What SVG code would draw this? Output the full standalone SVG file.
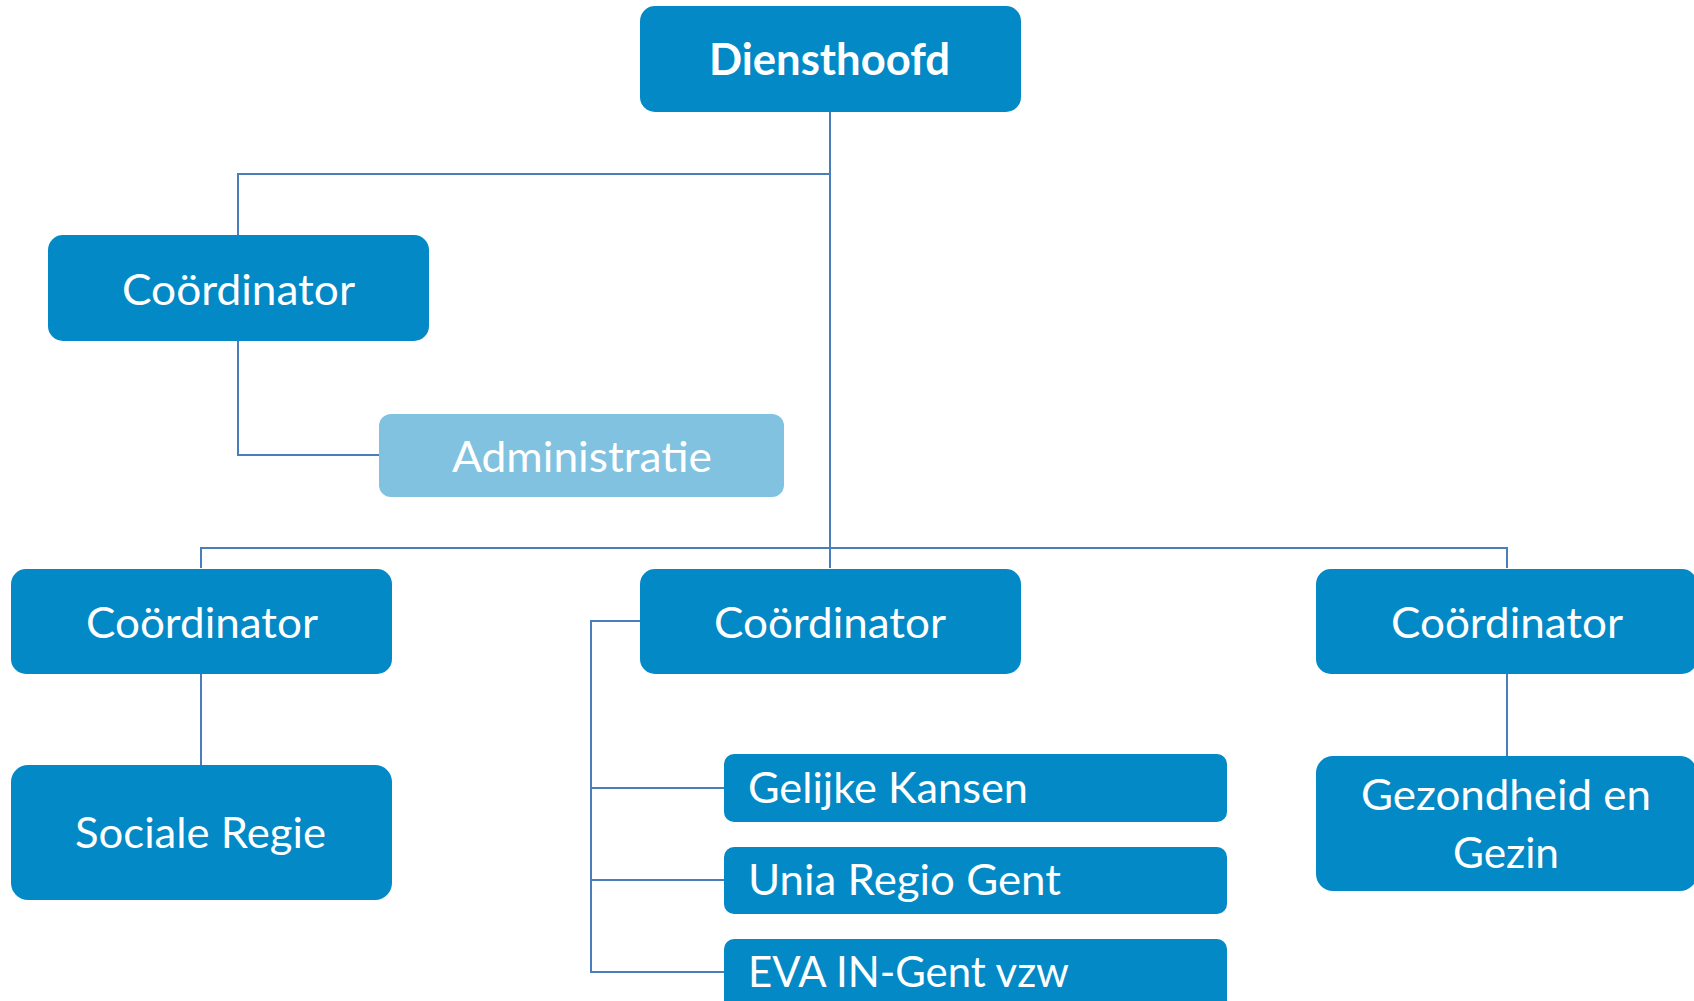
<svg xmlns="http://www.w3.org/2000/svg" width="1694" height="1001" viewBox="0 0 1694 1001">
<style>
.box{fill:#0289c6}
.light{fill:#80c2e0}
.t{font-family:Lato,"Open Sans","Liberation Sans",sans-serif;font-size:43px;fill:#ffffff}
.b{font-weight:bold}
.c{fill:none;stroke:#4a7ebb;stroke-width:2}
</style>
<rect width="1694" height="1001" fill="#ffffff"/>
<g id="connectors">
<path class="c" d="M830,112 V568"/>
<path class="c" d="M830,174 H238 V235"/>
<path class="c" d="M238,340 V455 H380"/>
<path class="c" d="M201,568 V548 H1507 V568"/>
<path class="c" d="M201,673 V765"/>
<path class="c" d="M1507,673 V756"/>
<path class="c" d="M640,621 H591 V972 H724 M591,788 H724 M591,880 H724"/>
</g>
<g id="diensthoofd">
<rect class="box" x="640" y="6" width="381" height="106" rx="15"/>
<text class="t b" x="709" y="75" textLength="241" lengthAdjust="spacingAndGlyphs">Diensthoofd</text>
</g>
<g id="coordinator1">
<rect class="box" x="48" y="235" width="381" height="106" rx="15"/>
<text class="t" x="122" y="305" textLength="233" lengthAdjust="spacingAndGlyphs">Coördinator</text>
</g>
<g id="administratie">
<rect class="light" x="379" y="414" width="405" height="83" rx="12"/>
<text class="t" x="452" y="472" textLength="260" lengthAdjust="spacingAndGlyphs">Administratie</text>
</g>
<g id="coordinator2">
<rect class="box" x="11" y="569" width="381" height="105" rx="15"/>
<text class="t" x="86" y="638" textLength="232" lengthAdjust="spacingAndGlyphs">Coördinator</text>
</g>
<g id="sociale-regie">
<rect class="box" x="11" y="765" width="381" height="135" rx="17"/>
<text class="t" x="75" y="848" textLength="251" lengthAdjust="spacingAndGlyphs">Sociale Regie</text>
</g>
<g id="coordinator3">
<rect class="box" x="640" y="569" width="381" height="105" rx="15"/>
<text class="t" x="714" y="638" textLength="232" lengthAdjust="spacingAndGlyphs">Coördinator</text>
</g>
<g id="gelijke-kansen">
<rect class="box" x="724" y="754" width="503" height="68" rx="10"/>
<text class="t" x="748" y="803" textLength="280" lengthAdjust="spacingAndGlyphs">Gelijke Kansen</text>
</g>
<g id="unia">
<rect class="box" x="724" y="847" width="503" height="67" rx="10"/>
<text class="t" x="748" y="895" textLength="313" lengthAdjust="spacingAndGlyphs">Unia Regio Gent</text>
</g>
<g id="eva">
<rect class="box" x="724" y="939" width="503" height="80" rx="10"/>
<text class="t" x="748" y="987" textLength="321" lengthAdjust="spacingAndGlyphs">EVA IN-Gent vzw</text>
</g>
<g id="coordinator4">
<rect class="box" x="1316" y="569" width="381" height="105" rx="15"/>
<text class="t" x="1391" y="638" textLength="232" lengthAdjust="spacingAndGlyphs">Coördinator</text>
</g>
<g id="gezondheid">
<rect class="box" x="1316" y="756" width="381" height="135" rx="17"/>
<text class="t" x="1361" y="810" textLength="290" lengthAdjust="spacingAndGlyphs">Gezondheid en</text>
<text class="t" x="1453" y="868" textLength="106" lengthAdjust="spacingAndGlyphs">Gezin</text>
</g>
</svg>
